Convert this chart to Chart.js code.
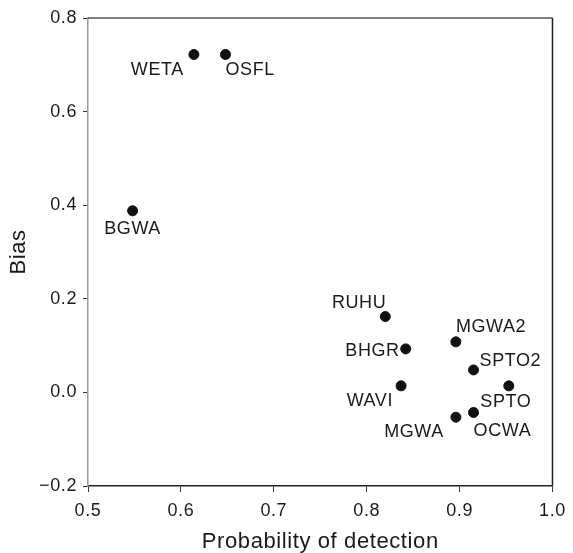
<!DOCTYPE html>
<html>
<head>
<meta charset="utf-8">
<script src="https://cdn.jsdelivr.net/npm/chart.js@4"></script>
<style>
  html, body { margin: 0; padding: 0; background: #fff; }
  #wrap { width: 573px; height: 553px; }
</style>
</head>
<body>
<div id="wrap"><canvas id="chart"></canvas></div>
<script>
// species codes and their estimates
const species = ["WETA", "OSFL", "BGWA", "RUHU", "MGWA2", "BHGR", "SPTO2", "WAVI", "SPTO", "OCWA", "MGWA"];
const detection = [0.614, 0.648, 0.548, 0.820, 0.896, 0.842, 0.915, 0.837, 0.953, 0.915, 0.896];
const bias      = [0.722, 0.722, 0.388, 0.162, 0.108, 0.093, 0.048, 0.014, 0.014, -0.043, -0.053];

const xTicks = [0.5, 0.6, 0.7, 0.8, 0.9, 1.0];
const yTicks = [-0.2, 0.0, 0.2, 0.4, 0.6, 0.8];

// where each code sits next to its dot: [align, dx, dy]
const labelPlace = [
    ["right", -10, 16],
    ["left",    0, 16],
    ["center",  0, 18],
    ["right",   1, -14],
    ["left",    0, -15],
    ["right",  -6,  2],
    ["left",    6, -9],
    ["right",  -8, 15],
    ["center", -3, 16],
    ["left",    0, 19],
    ["right", -12, 15],
];

const FONT = "'Liberation Sans', Arial, Helvetica, sans-serif";
const ink = "#1a1a1a";

Chart.defaults.font.family = FONT;
Chart.defaults.color = ink;

const fmt = (v) => {
    const s = Math.abs(v).toFixed(1);
    return v < -1e-9 ? "\u2212" + s : s;
};

// the printed figure has slightly loose type
const spacing = {
    id: "spacing",
    beforeDraw(chart) {
        chart.ctx.letterSpacing = "0.6px";
    }
};

const pointLabels = {
    id: "pointLabels",
    afterDatasetsDraw(chart) {
        const { ctx, scales } = chart;
        ctx.save();
        ctx.font = `18px ${FONT}`;
        ctx.fillStyle = ink;
        ctx.textBaseline = "middle";
        species.forEach((name, i) => {
            const [align, dx, dy] = labelPlace[i];
            ctx.textAlign = align;
            ctx.fillText(name,
                scales.x.getPixelForValue(detection[i]) + dx,
                scales.y.getPixelForValue(bias[i]) + dy);
        });
        ctx.restore();
    }
};

const frame = {
    id: "frame",
    afterDraw(chart) {
        const { ctx, chartArea: a } = chart;
        ctx.save();
        ctx.lineWidth = 1.5;
        ctx.strokeStyle = "#555";
        ctx.beginPath();
        ctx.moveTo(a.left, a.top);
        ctx.lineTo(a.right, a.top);
        ctx.stroke();
        ctx.strokeStyle = "#222";
        ctx.beginPath();
        ctx.moveTo(a.right, a.top);
        ctx.lineTo(a.right, a.bottom);
        ctx.stroke();
        ctx.restore();
    }
};

new Chart(document.getElementById("chart"), {
    type: "scatter",
    data: {
        datasets: [{
            data: detection.map((d, i) => ({ x: d, y: bias[i] })),
            backgroundColor: "#111",
            borderColor: "#111",
            pointRadius: 5,
            pointHoverRadius: 5,
        }]
    },
    options: {
        responsive: true,
        maintainAspectRatio: false,
        animation: false,
        events: [],
        layout: { padding: { top: 18, right: 17, left: 8, bottom: 0 } },
        plugins: { legend: { display: false }, tooltip: { enabled: false } },
        scales: {
            x: {
                type: "linear",
                min: 0.5,
                max: 1.0,
                afterBuildTicks: (s) => { s.ticks = xTicks.map(v => ({ value: v })); },
                afterFit: (s) => { s.height = 67; },
                ticks: {
                    font: { size: 18 },
                    color: ink,
                    padding: 8,
                    maxRotation: 0,
                    callback: (v) => fmt(v),
                },
                grid: { drawOnChartArea: false, drawTicks: true, tickLength: 6, color: "#333" },
                border: { display: true, color: "#222", width: 1.5 },
                title: {
                    display: true,
                    text: "Probability of detection",
                    font: { size: 22, lineHeight: 1 },
                    color: ink,
                    padding: { top: 0, bottom: 0 },
                },
            },
            y: {
                type: "linear",
                min: -0.2,
                max: 0.8,
                afterBuildTicks: (s) => { s.ticks = yTicks.map(v => ({ value: v })); },
                afterFit: (s) => { s.width = 80; },
                ticks: {
                    font: { size: 18 },
                    color: ink,
                    padding: 6,
                    callback: (v) => fmt(v),
                },
                grid: { drawOnChartArea: false, drawTicks: true, tickLength: 5, color: "#333" },
                border: { display: true, color: "#999", width: 1.5 },
                title: {
                    display: true,
                    text: "Bias",
                    font: { size: 22, lineHeight: 1 },
                    color: ink,
                    padding: { top: 0, bottom: 0 },
                },
            },
        },
    },
    plugins: [spacing, pointLabels, frame],
});
</script>
</body>
</html>
